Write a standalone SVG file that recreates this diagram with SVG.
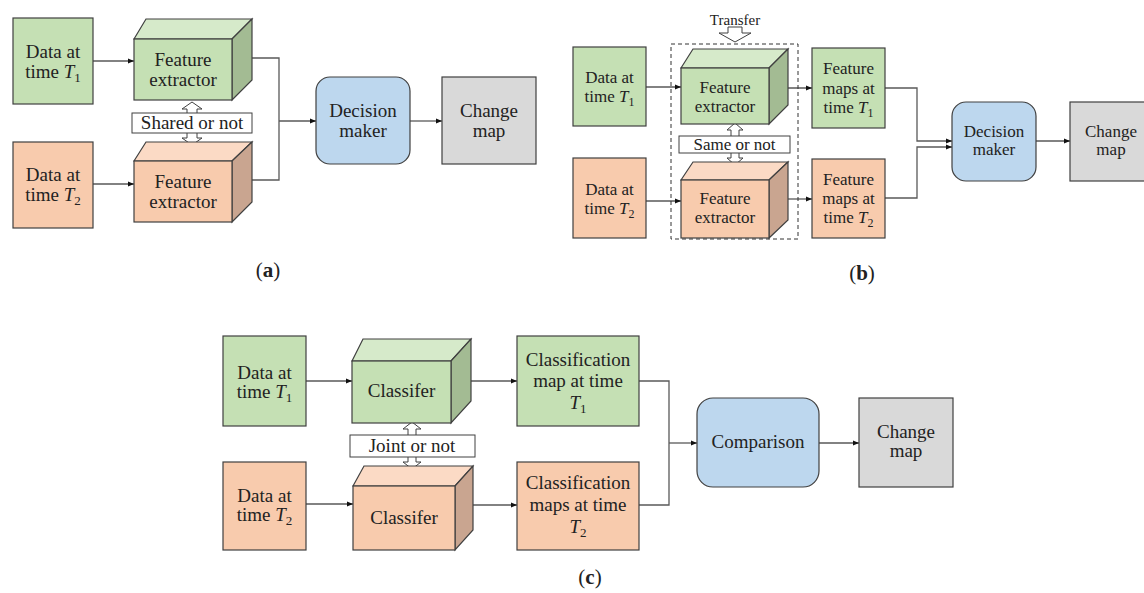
<svg xmlns="http://www.w3.org/2000/svg" width="1144" height="593" viewBox="0 0 1144 593">
<defs>
<marker id="ah" markerWidth="7" markerHeight="6" refX="6" refY="3" orient="auto" markerUnits="userSpaceOnUse">
<path d="M0,0.5 L6,3 L0,5.5 z" fill="#111"/>
</marker>
<style>
text{font-family:"Liberation Serif","DejaVu Serif",serif;fill:#222;text-anchor:middle}
.t19{font-size:19px}
.t17{font-size:17px}
.t15{font-size:15px}
.g{fill:#c5e0b4;stroke:#404040;stroke-width:1.2}
.gt{fill:#d6eaca;stroke:#404040;stroke-width:1.2}
.gs{fill:#a3bb93;stroke:#404040;stroke-width:1.2}
.o{fill:#f8cbad;stroke:#404040;stroke-width:1.2}
.ot{fill:#fbdac5;stroke:#404040;stroke-width:1.2}
.os{fill:#c9a590;stroke:#404040;stroke-width:1.2}
.b{fill:#bdd7ee;stroke:#404040;stroke-width:1.2}
.gr{fill:#d9d9d9;stroke:#404040;stroke-width:1.2}
.lb{fill:#fff;stroke:#404040;stroke-width:1}
.ha{fill:#fff;stroke:#404040;stroke-width:1}
.c{fill:none;stroke:#595959;stroke-width:1.3}
.ca{fill:none;stroke:#595959;stroke-width:1.3;marker-end:url(#ah)}
.i{font-style:italic}
</style>
</defs>
<rect width="1144" height="593" fill="#fff"/>

<!-- connectors -->
<g id="connectors">
<!-- (a) -->
<path class="ca" d="M93,61 H134"/>
<path class="ca" d="M93,184 H134"/>
<path class="c" d="M241,58 H279 V180 H241"/>
<path class="ca" d="M279,121 H316"/>
<path class="ca" d="M410,121 H442"/>
<!-- (b) -->
<path class="ca" d="M646,87 H681"/>
<path class="ca" d="M646,201 H681"/>
<path class="ca" d="M777,88 H812"/>
<path class="ca" d="M780,199 H812"/>
<path class="ca" d="M885,88 H917 V141 H952"/>
<path class="ca" d="M885,198 H917 V147 H952"/>
<path class="ca" d="M1036,141 H1070"/>
<!-- (c) -->
<path class="ca" d="M306,381 H352"/>
<path class="ca" d="M306,504 H353"/>
<path class="ca" d="M460,381 H517"/>
<path class="ca" d="M465,505 H517"/>
<path class="c" d="M639,381 H669 V505 H639"/>
<path class="ca" d="M669,443 H697"/>
<path class="ca" d="M819,443 H859"/>
</g>

<!-- (a) -->
<g id="a-data1">
<rect class="g" x="13" y="18" width="80" height="86"/>
<text class="t19" x="53" y="58">Data at</text>
<text class="t19" x="53" y="78">time <tspan class="i">T</tspan><tspan font-size="13" dy="4">1</tspan></text>
</g>
<g id="a-data2">
<rect class="o" x="13" y="142" width="80" height="86"/>
<text class="t19" x="53" y="181">Data at</text>
<text class="t19" x="53" y="201">time <tspan class="i">T</tspan><tspan font-size="13" dy="4">2</tspan></text>
</g>
<g id="a-shared">
<path class="ha" d="M192,102 L202,109 L197,109 L197,138 L202,138 L192,145 L182,138 L187,138 L187,109 L182,109 Z"/>
<rect class="lb" x="132" y="113" width="120" height="20"/>
<text class="t19" x="192" y="129">Shared or not</text>
</g>
<g id="a-fe1">
<polygon class="gt" points="134,39 146,19 252,19 232,39"/>
<polygon class="gs" points="232,39 252,19 252,80 232,100"/>
<rect class="g" x="134" y="39" width="98" height="61"/>
<text class="t19" x="183" y="66">Feature</text>
<text class="t19" x="183" y="86">extractor</text>
</g>
<g id="a-fe2">
<polygon class="ot" points="134,161 146,142 252,142 232,161"/>
<polygon class="os" points="232,161 252,142 252,202 232,222"/>
<rect class="o" x="134" y="161" width="98" height="61"/>
<text class="t19" x="183" y="188">Feature</text>
<text class="t19" x="183" y="208">extractor</text>
</g>
<g id="a-decision">
<rect class="b" x="316" y="77" width="94" height="87" rx="14"/>
<text class="t19" x="363" y="117">Decision</text>
<text class="t19" x="363" y="137">maker</text>
</g>
<g id="a-change">
<rect class="gr" x="442" y="77" width="94" height="87"/>
<text class="t19" x="489" y="117">Change</text>
<text class="t19" x="489" y="137">map</text>
</g>
<text id="label-a" x="268" y="277" style="font-size:21px">(<tspan font-weight="bold">a</tspan>)</text>

<!-- (b) -->
<g id="b-transfer">
<text class="t15" x="735" y="25">Transfer</text>
<path class="ha" d="M728,27 H742 V33 H751 L735,42 L719,33 H728 Z"/>
</g>
<rect id="b-group" x="671" y="44" width="127" height="195" fill="none" stroke="#333" stroke-width="1" stroke-dasharray="4,3"/>
<g id="b-data1">
<rect class="g" x="573" y="47" width="73" height="79"/>
<text class="t17" x="609.5" y="83">Data at</text>
<text class="t17" x="609.5" y="102">time <tspan class="i">T</tspan><tspan font-size="12" dy="4">1</tspan></text>
</g>
<g id="b-data2">
<rect class="o" x="573" y="158" width="73" height="80"/>
<text class="t17" x="609.5" y="195">Data at</text>
<text class="t17" x="609.5" y="214">time <tspan class="i">T</tspan><tspan font-size="12" dy="4">2</tspan></text>
</g>
<g id="b-same">
<path class="ha" d="M735,123 L743,130 L739,130 L739,158 L743,158 L735,165 L727,158 L731,158 L731,130 L727,130 Z"/>
<rect class="lb" x="679" y="136" width="111" height="17"/>
<text class="t17" x="734.5" y="150">Same or not</text>
</g>
<g id="b-fe1">
<polygon class="gt" points="681,68 693,49 788,49 769,68"/>
<polygon class="gs" points="769,68 788,49 788,105 769,124"/>
<rect class="g" x="681" y="68" width="88" height="56"/>
<text class="t17" x="725" y="93">Feature</text>
<text class="t17" x="725" y="112">extractor</text>
</g>
<g id="b-fe2">
<polygon class="ot" points="681,180 693,162 788,162 769,180"/>
<polygon class="os" points="769,180 788,162 788,220 769,238"/>
<rect class="o" x="681" y="180" width="88" height="58"/>
<text class="t17" x="725" y="204">Feature</text>
<text class="t17" x="725" y="223">extractor</text>
</g>
<g id="b-fm1">
<rect class="g" x="812" y="48" width="73" height="80"/>
<text class="t17" x="848.5" y="74">Feature</text>
<text class="t17" x="848.5" y="94">maps at</text>
<text class="t17" x="848.5" y="113">time <tspan class="i">T</tspan><tspan font-size="12" dy="4">1</tspan></text>
</g>
<g id="b-fm2">
<rect class="o" x="812" y="159" width="73" height="79"/>
<text class="t17" x="848.5" y="185">Feature</text>
<text class="t17" x="848.5" y="204">maps at</text>
<text class="t17" x="848.5" y="223">time <tspan class="i">T</tspan><tspan font-size="12" dy="4">2</tspan></text>
</g>
<g id="b-decision">
<rect class="b" x="952" y="102" width="84" height="79" rx="14"/>
<text class="t17" x="994" y="137">Decision</text>
<text class="t17" x="994" y="155">maker</text>
</g>
<g id="b-change">
<rect class="gr" x="1070" y="102" width="84" height="79"/>
<text class="t17" x="1111" y="137">Change</text>
<text class="t17" x="1111" y="155">map</text>
</g>
<text id="label-b" x="862" y="280" style="font-size:21px">(<tspan font-weight="bold">b</tspan>)</text>

<!-- (c) -->
<g id="c-data1">
<rect class="g" x="223" y="336" width="83" height="90"/>
<text class="t19" x="264.5" y="379">Data at</text>
<text class="t19" x="264.5" y="398">time <tspan class="i">T</tspan><tspan font-size="13" dy="4">1</tspan></text>
</g>
<g id="c-data2">
<rect class="o" x="223" y="462" width="83" height="88"/>
<text class="t19" x="264.5" y="502">Data at</text>
<text class="t19" x="264.5" y="521">time <tspan class="i">T</tspan><tspan font-size="13" dy="4">2</tspan></text>
</g>
<g id="c-joint">
<path class="ha" d="M412,422 L421,429 L416,429 L416,462 L421,462 L412,469 L403,462 L408,462 L408,429 L403,429 Z"/>
<rect class="lb" x="350" y="435" width="125" height="22"/>
<text class="t19" x="412" y="452">Joint or not</text>
</g>
<g id="c-cls1">
<polygon class="gt" points="352,361 363,339 471,339 451,361"/>
<polygon class="gs" points="451,361 471,339 471,401 451,423"/>
<rect class="g" x="352" y="361" width="99" height="62"/>
<text class="t19" x="401.5" y="397">Classifer</text>
</g>
<g id="c-cls2">
<polygon class="ot" points="353,486 364,466 473,466 455,486"/>
<polygon class="os" points="455,486 473,466 473,530 455,550"/>
<rect class="o" x="353" y="486" width="102" height="64"/>
<text class="t19" x="404" y="524">Classifer</text>
</g>
<g id="c-cm1">
<rect class="g" x="517" y="336" width="122" height="90"/>
<text class="t19" x="578" y="366">Classification</text>
<text class="t19" x="578" y="387">map at time</text>
<text class="t19" x="578" y="409"><tspan class="i">T</tspan><tspan font-size="13" dy="4">1</tspan></text>
</g>
<g id="c-cm2">
<rect class="o" x="517" y="462" width="122" height="88"/>
<text class="t19" x="578" y="489">Classification</text>
<text class="t19" x="578" y="511">maps at time</text>
<text class="t19" x="578" y="533"><tspan class="i">T</tspan><tspan font-size="13" dy="4">2</tspan></text>
</g>
<g id="c-comparison">
<rect class="b" x="697" y="398" width="122" height="89" rx="16"/>
<text class="t19" x="758" y="448">Comparison</text>
</g>
<g id="c-change">
<rect class="gr" x="859" y="398" width="94" height="89"/>
<text class="t19" x="906" y="438">Change</text>
<text class="t19" x="906" y="457">map</text>
</g>
<text id="label-c" x="590" y="584" style="font-size:21px">(<tspan font-weight="bold">c</tspan>)</text>
</svg>
